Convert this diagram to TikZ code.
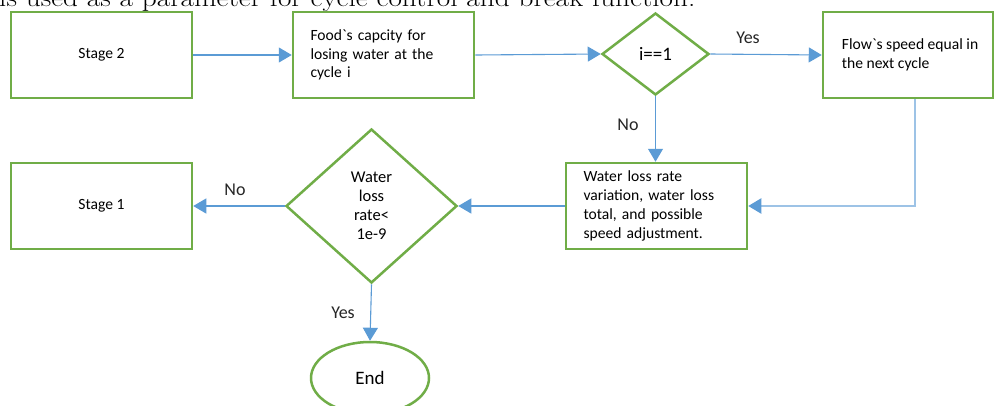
\documentclass[tikz,border=0pt]{standalone}
\usepackage{fontspec}
\usepackage{graphicx}
\newfontfamily\calib{Carlito}
\usetikzlibrary{shapes.geometric,arrows.meta}
\definecolor{bgreen}{HTML}{70AD47}
\definecolor{ablue}{HTML}{5B9BD5}
\definecolor{lblue}{HTML}{9DC3E6}
\tikzset{
  box/.style={draw=bgreen,line width=2.5pt,fill=white,rectangle,minimum width=181pt,minimum height=86pt,inner sep=0pt,font=\calib\fontsize{15.6}{18.8}\selectfont},
  dia/.style={draw=bgreen,line width=2.5pt,fill=white,diamond,inner sep=0pt},
  conn/.style={draw=ablue,line width=1.1pt,-{Triangle[length=13pt,width=15pt]}},
  lab/.style={font=\calib\fontsize{18}{20}\selectfont,text=black!85}
}
\begin{document}
\begin{tikzpicture}[x=1pt,y=-1pt]
\clip (0,0) rectangle (995,405);
\fill[white] (0,0) rectangle (995,405);
\node[anchor=base west,font=\fontsize{25}{28}\selectfont,inner sep=0pt] (top) at (-1,6) {\scalebox{1.17}[1]{is used as a parameter for cycle control and break function.}};
\node[box] (s2) at (101.5,55) {Stage 2};
\node[box,align=left,text width=146pt] (food) at (383.5,55) {Food`s capcity for\\losing water at the\\cycle i};
\node[dia,minimum width=107pt,minimum height=82pt,font=\calib\fontsize{19}{22}\selectfont] (d1) at (655.5,54) {i==1};
\node[box,minimum width=170pt] (flow) at (908,55) {};
\node[anchor=west,align=left,inner sep=0pt,font=\calib\fontsize{15.6}{18.8}\selectfont] (flowt) at ([xshift=20pt]flow.west) {Flow`s speed equal in\\the next cycle};
\node[box,align=left,text width=146pt] (wl) at (656.5,206) {Water loss rate\\variation, water loss\\total, and possible\\speed adjustment.};
\node[dia,minimum width=171pt,minimum height=154pt,align=center,font=\calib\fontsize{16.5}{19}\selectfont] (d2) at (371.5,206) {Water\\loss\\rate<\\1e-9};
\node[box] (s1) at (101.5,206) {Stage 1};
\node[draw=bgreen,line width=2.5pt,ellipse,minimum width=118pt,minimum height=72pt,inner sep=0pt,font=\calib\fontsize{19}{22}\selectfont] (end) at (370,378) {End};
\draw[conn] (s2.east) -- (food.west);
\draw[conn] (food.east) -- (d1.west);
\draw[conn] (d1.east) -- (flow.west);
\draw[conn] (d1.south) -- (d1.south |- wl.north);
\draw[conn,draw=lblue,line width=2pt,-{Triangle[length=13pt,width=15pt,color=ablue]}] ([xshift=7pt]flow.south) |- (wl.east);
\draw[conn] (wl.west) -- (d2.east);
\draw[conn] (d2.west) -- (s1.east);
\draw[conn] (d2.south) -- (end.north);
\node[lab] (yes1) at (748,38) {Yes};
\node[lab] (no1) at (628,125) {No};
\node[lab] (no2) at (235,190) {No};
\node[lab] (yes2) at (343,313) {Yes};
\end{tikzpicture}
\end{document}
